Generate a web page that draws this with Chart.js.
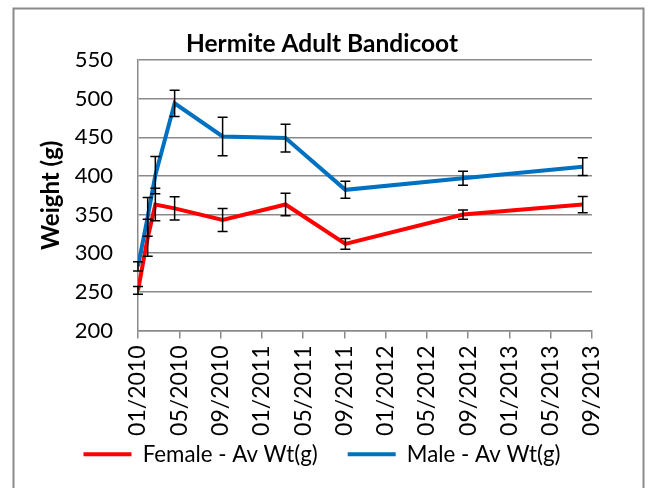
<!DOCTYPE html>
<html>
<head>
<meta charset="utf-8">
<script src="https://cdn.jsdelivr.net/npm/chart.js@4.4.1/dist/chart.umd.min.js"></script>
<style>
  html, body { margin: 0; padding: 0; background: #fff; }
  canvas { display: block; }
</style>
</head>
<body>
<canvas id="chart" width="649" height="488"></canvas>
<script>
// Survey dates as months after 01/2010
const months = [0, 0.94, 1.68, 3.55, 8.2, 14.3, 20.1, 31.5, 43.1];

// Female - average weight (g) and error
const femaleWt = [252, 320, 363, 358, 343, 363, 312, 350, 363];
const femaleErr = [5, 24, 21, 15, 15, 14.5, 7, 6, 10.5];

// Male - average weight (g) and error
const maleWt = [283, 347, 401, 494, 451, 449, 382, 397, 412];
const maleErr = [6, 25, 24, 17, 25, 18, 11, 9, 11.5];

// X tick labels, one every 4 months
const tickLabels = ['01/2010', '05/2010', '09/2010', '01/2011', '05/2011', '09/2011',
  '01/2012', '05/2012', '09/2012', '01/2013', '05/2013', '09/2013'];

const GRID = '#8a8a8a';
const FONT = 'Lato';

// outer chart border
const frame = {
  id: 'frame',
  beforeDraw(chart) {
    const ctx = chart.ctx;
    ctx.save();
    ctx.fillStyle = '#fff';
    ctx.fillRect(0, 0, chart.width, chart.height);
    ctx.strokeStyle = '#8a8a8a';
    ctx.lineWidth = 2;
    ctx.strokeRect(13.5, 8.5, 630, 490);
    ctx.restore();
  }
};

// vertical error bars with caps
const errorBars = {
  id: 'errorBars',
  afterDatasetsDraw(chart) {
    const { ctx, scales: { x, y } } = chart;
    ctx.save();
    ctx.strokeStyle = '#000';
    ctx.lineWidth = 1.5;
    chart.data.datasets.forEach(ds => {
      ds.data.forEach((pt, i) => {
        const px = x.getPixelForValue(pt.x);
        const top = y.getPixelForValue(pt.y + ds.errors[i]);
        const bot = y.getPixelForValue(pt.y - ds.errors[i]);
        ctx.beginPath();
        ctx.moveTo(px, top); ctx.lineTo(px, bot);
        ctx.moveTo(px - 5, top); ctx.lineTo(px + 5, top);
        ctx.moveTo(px - 5, bot); ctx.lineTo(px + 5, bot);
        ctx.stroke();
      });
    });
    ctx.restore();
  }
};

const toPoints = (xs, ys) => xs.map((m, i) => ({ x: m, y: ys[i] }));

new Chart(document.getElementById('chart'), {
  type: 'line',
  data: {
    datasets: [
      {
        label: 'Female - Av Wt(g)',
        data: toPoints(months, femaleWt),
        errors: femaleErr,
        borderColor: '#ff0000',
        backgroundColor: '#ff0000',
        borderWidth: 4,
        pointRadius: 0,
        tension: 0
      },
      {
        label: 'Male - Av Wt(g)',
        data: toPoints(months, maleWt),
        errors: maleErr,
        borderColor: '#0070c0',
        backgroundColor: '#0070c0',
        borderWidth: 4,
        pointRadius: 0,
        tension: 0
      }
    ]
  },
  options: {
    responsive: false,
    animation: false,
    layout: { padding: { left: 2, right: 7, top: 0, bottom: 12.5 } },
    plugins: {
      title: {
        display: true,
        text: 'Hermite Adult Bandicoot',
        color: '#000',
        font: { family: FONT, size: 24.5, weight: 'bold', lineHeight: 1.2 },
        padding: { top: 29, bottom: 1.6 }
      },
      legend: {
        position: 'bottom',
        labels: {
          color: '#000',
          font: { family: FONT, size: 22.3, lineHeight: 1.2 },
          usePointStyle: true,
          pointStyle: 'line',
          boxWidth: 40,
          pointStyleWidth: 48,
          padding: 30
        }
      },
      tooltip: { enabled: false }
    },
    scales: {
      x: {
        type: 'linear',
        min: 0,
        max: 44,
        afterFit: s => {
          s.height = 82.7;
          // let the long rotated labels run past the axis box
          s._computeLabelArea = () => null;
        },
        afterBuildTicks: s => {
          s.ticks = tickLabels.map((_, i) => ({ value: i * 4 }));
        },
        grid: { drawOnChartArea: false, drawTicks: true, tickLength: 8, color: GRID, lineWidth: 1.5 },
        border: { display: true, color: GRID, width: 1.5 },
        ticks: {
          autoSkip: false,
          minRotation: 90,
          maxRotation: 90,
          padding: 7,
          color: '#000',
          font: { family: FONT, size: 23 },
          callback: v => tickLabels[Math.round(v / 4)]
        }
      },
      y: {
        min: 200,
        max: 550,
        afterFit: s => { s.width = 136; },
        grid: { color: GRID, lineWidth: 1.5, drawTicks: false },
        border: { display: true, color: GRID, width: 1.5 },
        ticks: {
          stepSize: 50,
          padding: 25,
          color: '#000',
          font: { family: FONT, size: 22 }
        },
        title: {
          display: true,
          text: 'Weight (g)',
          color: '#000',
          font: { family: FONT, size: 24, weight: 'bold', lineHeight: 1.2 },
          padding: { top: 34.6, bottom: 0 }
        }
      },
      y2: {
        position: 'right',
        display: true,
        afterFit: s => { s.width = 50; },
        grid: { display: false, drawTicks: false },
        border: { display: false },
        ticks: { display: false }
      }
    }
  },
  plugins: [frame, errorBars]
});
</script>
</body>
</html>
